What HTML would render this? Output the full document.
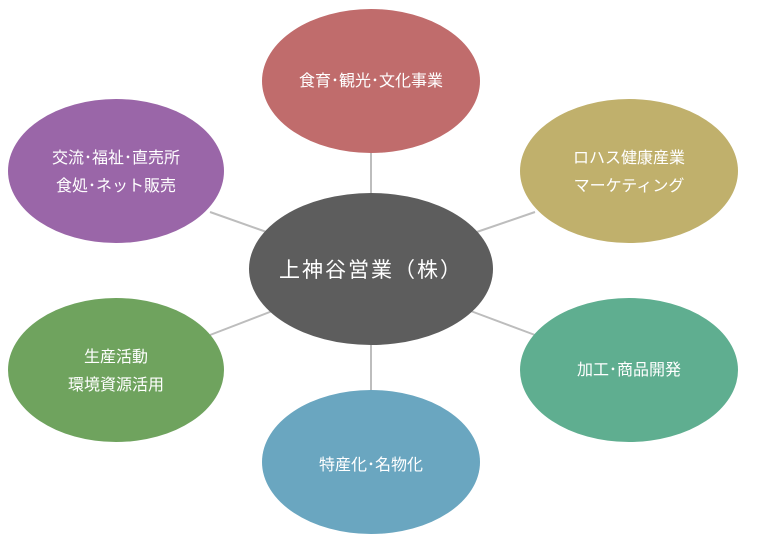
<!DOCTYPE html>
<html><head><meta charset="utf-8"><style>
html,body{margin:0;padding:0;background:#fff;}
svg{display:block;}
text{font-family:"Liberation Sans","Noto Sans CJK JP",sans-serif;fill:#fff;text-anchor:middle;}
</style></head><body>
<svg width="760" height="556" viewBox="0 0 760 556">
<g stroke="#bdbdbd" stroke-width="2">
<line x1="371" y1="150" x2="371" y2="200"/>
<line x1="371" y1="340" x2="371" y2="392"/>
<line x1="210" y1="212" x2="275" y2="235"/>
<line x1="535" y1="212" x2="468" y2="235"/>
<line x1="210" y1="335" x2="275" y2="310"/>
<line x1="535" y1="335" x2="468" y2="310"/>
</g>
<ellipse cx="371" cy="81" rx="109" ry="72" fill="#c06c6c"/>
<ellipse cx="116" cy="171" rx="108" ry="72" fill="#9a66a8"/>
<ellipse cx="629" cy="171" rx="109" ry="72" fill="#c0b06c"/>
<ellipse cx="116" cy="370" rx="108" ry="72" fill="#6fa35e"/>
<ellipse cx="629" cy="370" rx="109" ry="72" fill="#5fae90"/>
<ellipse cx="371" cy="462" rx="109" ry="72" fill="#6aa6c0"/>
<ellipse cx="371" cy="269" rx="122" ry="76" fill="#5d5d5d"/>
<text x="371" y="86" font-size="16">食育･観光･文化事業</text>
<text x="116" y="163" font-size="16">交流･福祉･直売所</text>
<text x="116" y="191" font-size="16">食処･ネット販売</text>
<text x="629" y="163" font-size="16">ロハス健康産業</text>
<text x="629" y="191" font-size="16">マーケティング</text>
<text x="371" y="277" font-size="21" letter-spacing="2">上神谷営業（株）</text>
<text x="116" y="362" font-size="16">生産活動</text>
<text x="116" y="390" font-size="16">環境資源活用</text>
<text x="629" y="375" font-size="16">加工･商品開発</text>
<text x="371" y="470" font-size="16">特産化･名物化</text>
</svg>
</body></html>
